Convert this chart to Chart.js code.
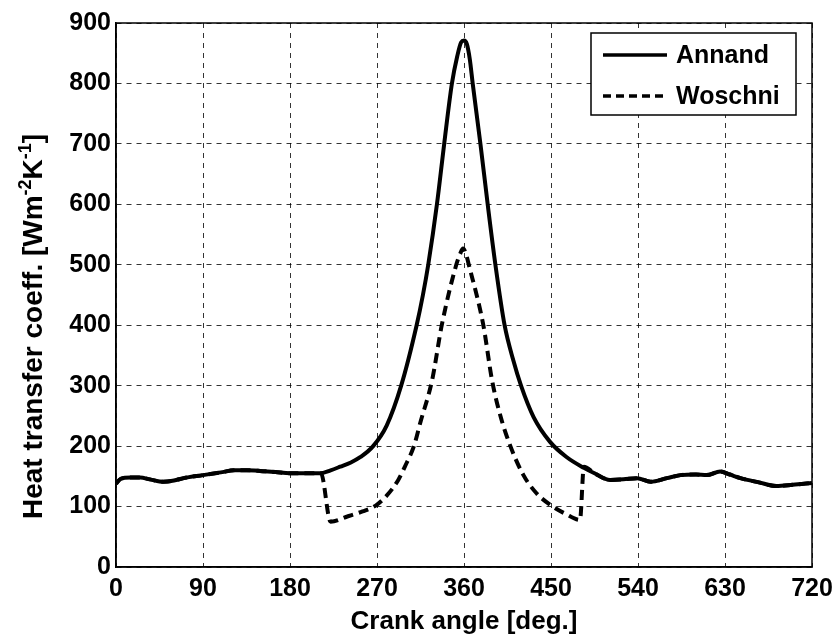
<!DOCTYPE html>
<html>
<head>
<meta charset="utf-8">
<script src="https://cdn.jsdelivr.net/npm/chart.js@4.4.1/dist/chart.umd.min.js"></script>
<style>
html,body{margin:0;padding:0;background:#fff;}
#wrap{width:840px;height:642px;position:relative;}
</style>
</head>
<body>
<div id="wrap"><canvas id="c" width="840" height="642"></canvas></div>
<script>
const annandAngle = [0,5,15,25,35,49,60,70,90,110,122,135,149,165,180,195,211,222,232,243,253,266,280,295,311,317.5,323,332,339.5,347.5,353,357,360,363,366,369,377,384.5,392.5,402,411,419,432,449,466,484,495,511,525,539,553,570,584,600,611,625,635,646,665,683,700,720];
const annandValue = [138,146,148,148,145,141,143,147,152,157,160,160,159,157,155,155,155,160,166,173,182,200,234,300,400,450,500,600,700,800,845,868,871,865,840,800,700,600,500,400,342,300,248,207,182,164,155,144,145,147,141,147,152,153,152,158,153,147,140,134,136,139];
const woschniAngle = [0,5,15,25,35,49,60,70,90,110,122,135,149,165,180,195,208,212,222,240,255,269,280,292,300,308,315,327,337,352,356,359,362,365,380,389,397.5,408,421.5,435,450,465,480,484,495,511,525,539,553,570,584,600,611,625,635,646,665,683,700,720];
const woschniValue = [138,146,148,148,145,141,143,147,152,157,160,160,159,157,155,155,155,155,75,84,92,102,118,144,170,199,240,309,400,500,518,527,518,500,400,309,251,200,152,122,102,88,78,166,155,144,145,147,141,147,152,153,152,158,153,147,140,134,136,139];
const xTicks = [0,90,180,270,360,450,540,630,720];
const yTicks = [0,100,200,300,400,500,600,700,800,900];
const seriesNames = ['Annand','Woschni'];
const xTitle = 'Crank angle [deg.]';
const yTitleParts = [['Heat transfer coeff. [Wm', false], ['-2', true], ['K', false], ['-1', true], [']', false]];

const FONT = "'Liberation Sans', Arial, 'DejaVu Sans', sans-serif";

const pts = (xs, ys) => xs.map((x, i) => ({x: x, y: ys[i]}));

const frameAndLegend = {
  id: 'frameAndLegend',
  afterDraw(chart) {
    const ctx = chart.ctx, a = chart.chartArea;
    ctx.save();
    ctx.strokeStyle = '#000';
    ctx.lineWidth = 1.5;
    ctx.setLineDash([]);
    ctx.strokeRect(a.left, a.top, a.right - a.left, a.bottom - a.top);
    // legend box
    const bx = 591, by = 33, bw = 205, bh = 82;
    ctx.fillStyle = '#fff';
    ctx.fillRect(bx, by, bw, bh);
    ctx.lineWidth = 1.5;
    ctx.strokeRect(bx, by, bw, bh);
    ctx.font = 'bold 25px ' + FONT;
    ctx.textBaseline = 'middle';
    ctx.fillStyle = '#000';
    chart.data.datasets.forEach((ds, i) => {
      const yy = by + 22 + i * 41;
      ctx.beginPath();
      ctx.lineWidth = 3.5;
      ctx.setLineDash(ds.borderDash ? [8, 5] : []);
      ctx.moveTo(603, yy);
      ctx.lineTo(667, yy);
      ctx.stroke();
      ctx.setLineDash([]);
      ctx.fillText(ds.label, 676, yy + 1);
    });
    ctx.restore();

    // y axis title with superscripts
    ctx.save();
    ctx.translate(42, 519);
    ctx.rotate(-Math.PI / 2);
    ctx.fillStyle = '#000';
    ctx.textBaseline = 'alphabetic';
    let x = 0;
    yTitleParts.forEach(([t, sup]) => {
      ctx.font = (sup ? 'bold 18px ' : 'bold 28px ') + FONT;
      ctx.fillText(t, x, sup ? -11 : 0);
      x += ctx.measureText(t).width;
    });
    ctx.restore();
  }
};

new Chart(document.getElementById('c'), {
  type: 'line',
  data: {
    datasets: [
      {label: seriesNames[0], data: pts(annandAngle, annandValue), borderColor: '#000', borderWidth: 4, pointRadius: 0, cubicInterpolationMode: 'monotone', fill: false},
      {label: seriesNames[1], data: pts(woschniAngle, woschniValue), borderColor: '#000', borderWidth: 4, borderDash: [10, 6], pointRadius: 0, cubicInterpolationMode: 'monotone', fill: false}
    ]
  },
  options: {
    responsive: false,
    animation: false,
    layout: {padding: {left: 0, right: 28, top: 23, bottom: 0}},
    plugins: {legend: {display: false}, tooltip: {enabled: false}},
    scales: {
      x: {
        type: 'linear', min: 0, max: 720,
        afterBuildTicks: (s) => { s.ticks = xTicks.map(v => ({value: v})); },
        afterFit: (s) => { s.height = 75; },
        ticks: {color: '#000', font: {family: FONT, size: 25, weight: 'bold'}, padding: 7, maxRotation: 0},
        grid: {color: '#000', lineWidth: 0.8, drawTicks: false},
        border: {color: '#000', width: 1.5, dash: [5, 5]},
        title: {display: true, text: xTitle, color: '#000', font: {family: FONT, size: 26, weight: 'bold'}, padding: {top: 0, bottom: 5}}
      },
      y: {
        min: 0, max: 900,
        afterBuildTicks: (s) => { s.ticks = yTicks.map(v => ({value: v})); },
        afterFit: (s) => { s.width = 116; },
        ticks: {color: '#000', font: {family: FONT, size: 25, weight: 'bold'}, padding: 5},
        grid: {color: '#000', lineWidth: 0.8, drawTicks: false},
        border: {color: '#000', width: 1.5, dash: [5, 5]},
        title: {display: false}
      }
    }
  },
  plugins: [frameAndLegend]
});
</script>
</body>
</html>
